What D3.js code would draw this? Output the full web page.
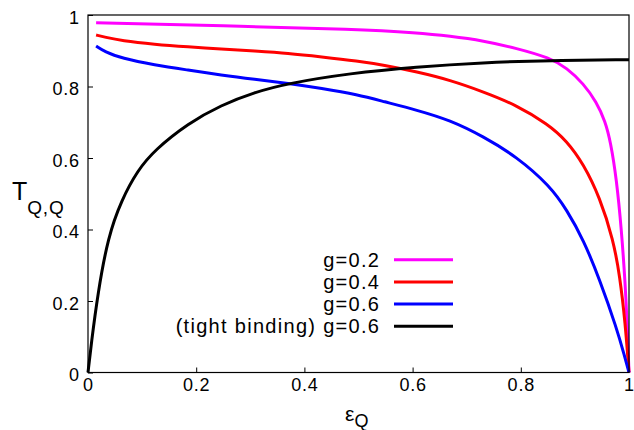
<!DOCTYPE html>
<html>
<head>
<meta charset="utf-8">
<script src="https://cdn.jsdelivr.net/npm/d3@7"></script>
<style>
  html, body { margin: 0; padding: 0; background: #fff; }
  svg { display: block; }
  text { font-family: "Liberation Sans", Arial, Helvetica, sans-serif; fill: #000; }
</style>
</head>
<body>
<svg id="chart" width="634" height="430"></svg>
<script>
// ---- data ----
const epsG02 = [0.015, 0.246, 0.499, 0.608, 0.669, 0.731, 0.792, 0.854, 0.885, 0.916, 0.940, 0.956, 0.966, 0.977, 0.986, 0.993, 0.997, 1.0];
const tG02   = [0.978, 0.970, 0.960, 0.950, 0.941, 0.928, 0.907, 0.880, 0.852, 0.808, 0.756, 0.703, 0.645, 0.540, 0.400, 0.250, 0.120, 0.0];

const epsG04 = [0.015, 0.031, 0.062, 0.123, 0.185, 0.246, 0.308, 0.370, 0.431, 0.499, 0.546, 0.608, 0.669, 0.731, 0.792, 0.850, 0.885, 0.916, 0.946, 0.971, 0.983, 0.993, 1.0];
const tG04   = [0.944, 0.938, 0.928, 0.918, 0.911, 0.905, 0.899, 0.893, 0.883, 0.871, 0.860, 0.841, 0.818, 0.785, 0.748, 0.695, 0.648, 0.583, 0.490, 0.371, 0.270, 0.140, 0.0];

const epsG06 = [0.015, 0.031, 0.062, 0.123, 0.185, 0.246, 0.308, 0.370, 0.431, 0.499, 0.546, 0.608, 0.669, 0.731, 0.792, 0.854, 0.885, 0.916, 0.946, 0.977, 0.992, 1.0];
const tG06   = [0.913, 0.897, 0.879, 0.860, 0.846, 0.832, 0.820, 0.809, 0.795, 0.777, 0.758, 0.734, 0.706, 0.660, 0.604, 0.522, 0.455, 0.371, 0.259, 0.125, 0.045, 0.0];

const epsTB = [0, 0.006, 0.018, 0.037, 0.062, 0.092, 0.123, 0.185, 0.246, 0.308, 0.370, 0.484, 0.607, 0.730, 0.854, 1.0];
const tTB   = [0, 0.080, 0.220, 0.380, 0.483, 0.566, 0.622, 0.697, 0.748, 0.784, 0.809, 0.837, 0.855, 0.867, 0.873, 0.875];

const seriesNames  = ["g=0.2", "g=0.4", "g=0.6", "(tight binding) g=0.6"];
const seriesColors = ["#ff00ff", "#ff0000", "#0000ff", "#000000"];
const xTicks = [0, 0.2, 0.4, 0.6, 0.8, 1];
const yTicks = [0, 0.2, 0.4, 0.6, 0.8, 1];

// ---- layout ----
const plotL = 88, plotR = 629, plotT = 15, plotB = 372.5;

const svg = d3.select("#chart");
const x = d3.scaleLinear().domain([0, 1]).range([plotL, plotR]);
const y = d3.scaleLinear().domain([0, 1]).range([plotB, plotT]);

const fmt = d => (d === 0 || d === 1) ? d3.format("d")(d) : d3.format(".1f")(d);
const xAxis = d3.axisBottom(x).tickValues(xTicks).tickSize(-5).tickPadding(9).tickFormat(fmt);
const yAxis = d3.axisLeft(y).tickValues(yTicks).tickSize(-5).tickPadding(9).tickFormat(fmt);

const gx = svg.append("g").attr("transform", `translate(0,${plotB})`).call(xAxis);
const gy = svg.append("g").attr("transform", `translate(${plotL},0)`).call(yAxis);
[gx, gy].forEach(g => {
  g.select(".domain").remove();
  g.selectAll(".tick line").attr("stroke", "#000").attr("stroke-width", 1);
  g.selectAll(".tick text").style("font-size", "18px").style("letter-spacing", "0.8px").attr("fill", "#000");
});
gx.selectAll(".tick text").attr("dy", "0.71em").attr("y", 6);
gy.selectAll(".tick text").attr("dy", "0.45em").attr("x", -9 + 0.8);

// series
const series = [
  { eps: epsG02, t: tG02 },
  { eps: epsG04, t: tG04 },
  { eps: epsG06, t: tG06 },
  { eps: epsTB,  t: tTB  }
];
const line = d3.line().x(d => x(d[0])).y(d => y(d[1])).curve(d3.curveBasis);
const plot = svg.append("g");
series.forEach((s, i) => {
  const pts = s.eps.map((e, k) => [e, s.t[k]]);
  plot.append("path").datum(pts)
    .attr("d", line)
    .attr("fill", "none")
    .attr("stroke", seriesColors[i])
    .attr("stroke-width", 3)
    .attr("stroke-linejoin", "round");
});

// frame
svg.append("rect")
  .attr("x", plotL).attr("y", plotT)
  .attr("width", plotR - plotL).attr("height", plotB - plotT)
  .attr("fill", "none").attr("stroke", "#000").attr("stroke-width", 1.2);

// legend
const legTextX = 380.3, legLineX1 = 394, legLineX2 = 453, legY0 = 259.7, legDy = 22.2;
const leg = svg.append("g");
seriesNames.forEach((name, i) => {
  const yy = legY0 + i * legDy;
  leg.append("text").attr("x", legTextX).attr("y", yy + 7)
    .attr("text-anchor", "end").style("font-size", "20px").style("letter-spacing", "1.3px").text(name);
  leg.append("line").attr("x1", legLineX1).attr("x2", legLineX2)
    .attr("y1", yy).attr("y2", yy)
    .attr("stroke", seriesColors[i]).attr("stroke-width", 3);
});

// axis labels
const yl = svg.append("text").attr("x", 12).attr("y", 200).style("font-size", "25px");
yl.append("tspan").text("T");
yl.append("tspan").attr("dy", 14).style("font-size", "19px").style("letter-spacing", "0.8px").text("Q,Q");

const xl = svg.append("text").attr("x", 345).attr("y", 420.5).style("font-size", "21px");
xl.append("tspan").text("ε");
xl.append("tspan").attr("dy", 6.5).style("font-size", "18px").text("Q");
</script>
</body>
</html>
